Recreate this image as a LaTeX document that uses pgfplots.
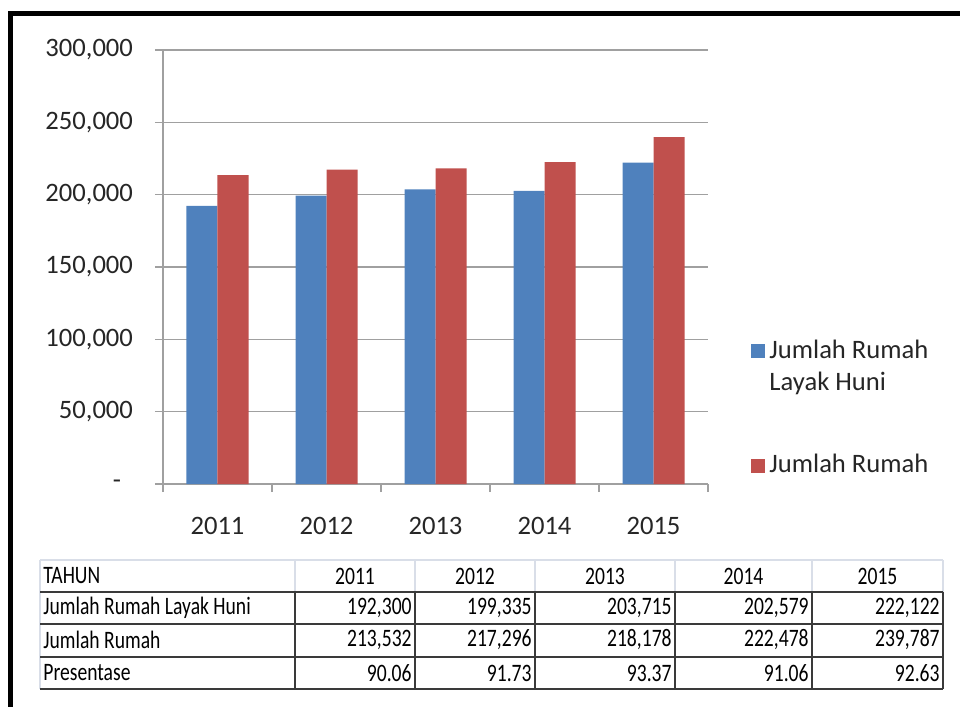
\documentclass[border=0pt]{standalone}
\usepackage{pgfplots}
\pgfplotsset{compat=1.18}
\usepackage{pgfplotstable}
\usepackage{fontspec}
\setmainfont{Carlito}
\definecolor{barblue}{HTML}{4F81BD}
\definecolor{barred}{HTML}{C0504D}
\definecolor{gridgray}{HTML}{A0A0A0}
\definecolor{hdrline}{HTML}{D9DEE8}
\definecolor{tblline}{HTML}{3A3A3A}

\pgfplotstableread{
x layak rumah
0 192300 213532
1 199335 217296
2 203715 218178
3 202579 222478
4 222122 239787
}\rumahdata

\newcommand{\tb}[1]{\scalebox{1}[1.28]{#1}}

\begin{document}
\begin{tikzpicture}
\begin{axis}[
  at={(81.5pt,-242pt)}, anchor=south west,
  scale only axis, width=272.5pt, height=217pt,
  ymin=0, ymax=300000,
  ytick={0,50000,100000,150000,200000,250000,300000},
  yticklabels={{-\kern6pt},{50,000},{100,000},{150,000},{200,000},{250,000},{300,000}},
  scaled y ticks=false,
  xmin=-0.5, xmax=4.5,
  xtick={-0.5,0.5,1.5,2.5,3.5,4.5},
  x tick label as interval,
  xticklabels={2011,2012,2013,2014,2015},
  axis x line*=bottom, axis y line*=left,
  tick align=outside, major tick length=4pt,
  ymajorgrids, grid style={gridgray, line width=0.6pt},
  axis line style={gridgray, line width=0.6pt},
  tick style={gridgray, line width=0.6pt},
  tick label style={font=\fontsize{13.3}{16}\selectfont, text=black!85},
  yticklabel style={xshift=-7.5pt},
  xticklabel style={yshift=-9pt},
  ybar=0pt, bar width=15.5pt,
  legend style={at={(axis description cs:1.068,0.352)}, anchor=north west,
    draw=none, fill=none, font=\fontsize{13.3}{16}\selectfont, text=black!85,
    cells={anchor=base west, align=left}, row sep=26.5pt},
]
\addplot[fill=barblue, draw=none,
  legend image code/.code={\fill[barblue] (-2pt,16pt) rectangle (5pt,23pt);}]
  table[x=x, y=layak] {\rumahdata};
\addlegendentry{Jumlah Rumah\\Layak Huni}
\addplot[fill=barred, draw=none,
  legend image code/.code={\fill[barred] (-2pt,0pt) rectangle (5pt,7pt);}]
  table[x=x, y=rumah] {\rumahdata};
\addlegendentry{Jumlah Rumah}
\end{axis}

\begin{scope}[x=0.5pt, y=-0.5pt]
  % frame
  \draw[line width=2.3pt] (8,13.5) -- (960,13.5);
  \draw[line width=2.3pt] (10.5,11.2) -- (10.5,707);
  % table lines
  \draw[hdrline, line width=0.6pt] (40,560) -- (943,560);
  \foreach \c in {40,295,415,535,675,812,943}
    \draw[hdrline, line width=0.6pt] (\c,560) -- (\c,592);
  \draw[hdrline, line width=0.6pt] (40,592) -- (40,689);
  \foreach \r in {592,624,657,689}
    \draw[tblline, line width=0.8pt] (40,\r) -- (943,\r);
  \foreach \c in {295,415,535,675,812,943}
    \draw[tblline, line width=0.8pt] (\c,592) -- (\c,689);
  % table text
  \begin{scope}[every node/.style={font=\fontsize{9.8}{12}\selectfont, inner sep=0pt}]
    \node[anchor=west] at (43,576) {\tb{TAHUN}};
    \node[anchor=west] at (43,608) {\tb{Jumlah Rumah Layak Huni}};
    \node[anchor=west] at (43,640) {\tb{Jumlah Rumah}};
    \node[anchor=west] at (43,673) {\tb{Presentase}};
    \foreach \cx/\yr in {355/2011,475/2012,605/2013,743.5/2014,877.5/2015}
      \node at (\cx,576) {\tb{\yr}};
    \foreach \cr/\a/\b/\p in {412/192{,}300/213{,}532/90.06,
                               532/199{,}335/217{,}296/91.73,
                               672/203{,}715/218{,}178/93.37,
                               809/202{,}579/222{,}478/91.06,
                               940/222{,}122/239{,}787/92.63} {
      \node[anchor=east] at (\cr,608) {\tb{\a}};
      \node[anchor=east] at (\cr,640) {\tb{\b}};
      \node[anchor=east] at (\cr,673) {\tb{\p}};
    }
  \end{scope}
\end{scope}

\pgfresetboundingbox
\path[use as bounding box] (0,0) rectangle (480pt,-353.5pt);
\end{tikzpicture}
\end{document}
